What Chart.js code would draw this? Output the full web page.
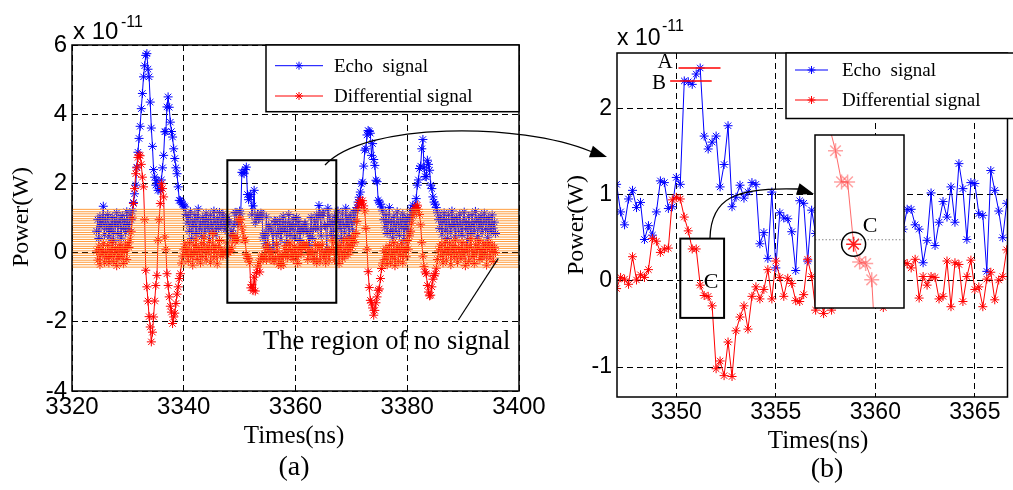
<!DOCTYPE html>
<html>
<head>
<meta charset="utf-8">
<title>Echo and differential signal</title>
<script src="https://cdn.jsdelivr.net/npm/chart.js@4.4.1/dist/chart.umd.min.js"></script>
<style>
  html, body { margin: 0; padding: 0; background: #fff; }
  #wrap { position: relative; width: 1013px; height: 490px; overflow: hidden; background: #fff; }
  #wrap canvas { position: absolute; left: 0; top: 0; }
</style>
</head>
<body>
<div id="wrap">
  <canvas id="panelA" width="1013" height="490"></canvas>
  <canvas id="panelB" width="1013" height="490"></canvas>
  <canvas id="inset" width="1013" height="490"></canvas>
</div>
<script>
// sampling grid of the record (ns)
const T0 = 3324.4;
const DT = 0.2;

// power in units of 1e-11 W
// 3324.4 .. 3346.8 ns
const echoPre = [
  0.62, 0.95, 0.41, 1.05, 0.74, 0.88, 1.34, 0.52, 0.97, 0.68,
  1.10, 0.45, 0.83, 0.60, 1.02, 0.36, 0.91, 0.77, 1.15, 0.55,
  0.86, 0.98, 0.42, 1.07, 0.70, 0.93, 0.58, 1.18, 0.81, 0.66,
  1.12,
  0.95, 1.20, 1.45, 1.70, 1.95, 2.47, 2.90, 3.30, 3.65, 4.16,
  4.60, 5.08, 5.40, 5.70, 5.75, 5.30, 5.08, 4.35, 3.60, 3.07,
  2.40, 2.18, 1.95, 2.09, 1.80, 1.85, 1.80, 2.10, 2.45, 2.81,
  3.49, 3.50, 4.21, 4.50, 4.20, 3.77, 3.50, 3.34, 3.00, 2.72,
  2.45, 2.28, 1.90, 1.51, 1.50, 1.46, 1.40, 1.35, 1.32, 1.10,
  0.85, 1.05, 0.62, 1.18, 0.40, 0.92, 0.75, 1.10, 0.55, 0.98,
  1.26, 0.68, 0.83, 0.47, 1.02, 0.90, 0.58, 1.14, 0.72, 0.96,
  0.38, 1.08, 0.80, 0.63, 1.20, 0.88, 0.52, 0.99, 0.70, 1.16,
  0.77, 0.93
];
const diffPre = [
  0.05, -0.22, 0.18, -0.35, 0.10, -0.08, 0.26, -0.28, 0.02, -0.15,
  0.21, -0.30, 0.08, -0.12, 0.30, -0.25, -0.02, 0.15, -0.38, 0.06,
  -0.18, 0.24, -0.10, 0.12, -0.32, 0.03, 0.19, -0.20, 0.28, 0.15,
  0.38,
  0.60, 1.00, 1.42, 1.85, 2.28, 2.45, 2.75, 2.82, 2.80, 2.55,
  2.18, 1.90, 0.95, -0.51, -0.99, -1.40, -1.85, -2.15, -2.58, -2.30,
  -1.86, -1.40, -0.95, -0.66, 0.36, 0.95, 1.42, 1.99, 1.85, 1.61,
  0.45, 0.10, -0.61, -0.95, -1.28, -1.55, -1.72, -2.05, -1.86, -1.75,
  -1.47, -1.20, -0.99, -0.75, -0.61, -0.30, -0.10, 0.10, 0.25, -0.05,
  0.12, -0.25, 0.30, -0.10, 0.05, -0.36, 0.22, -0.05, 0.38, -0.20,
  0.15, 0.02, -0.30, 0.26, -0.12, 0.45, 0.08, -0.22, 0.18, -0.02,
  0.32, -0.28, 0.10, 0.55, -0.15, 0.20, 0.00, -0.33, 0.14, 0.35,
  -0.08, 0.06
];

// 3347.0 .. 3366.6 ns (the part shown in panel b)
const echoZoom = [
  1.12, 0.80, 0.65, 0.95, 1.05, 0.85, 0.91, 0.48, 0.64, 0.53,
  0.80, 1.16, 1.14, 0.84, 0.86, 1.20, 1.12, 2.32, 2.31, 2.28,
  2.40, 2.47, 1.68, 1.53, 1.61, 1.68, 1.09, 1.35, 1.80, 0.86,
  0.97, 1.11, 0.96, 1.03, 1.14, 1.12, 0.43, 0.56, 0.26, 1.03,
  0.15, 0.79, 0.73, 0.72, 0.57, 0.12, 0.93, 0.90, 0.23, 0.82,
  0.55, 0.95, 0.38, 0.72, 1.05, 0.61, 0.88, 0.30, 0.76, 1.10,
  0.50, 0.84, 0.66, 0.98, 0.42, 0.79, 1.02, 0.58, 0.90, 0.35,
  0.74, 0.68,
  0.60, 0.83, 0.83, 0.65, 0.60, 0.21, 0.47, 1.02, 0.41, 0.68,
  0.92, 0.74, 1.09, 0.68, 1.36, 1.07, 0.48, 1.14, 1.13, 0.78,
  0.76, 0.11, 1.28, 1.05, 0.81, 0.50, 0.90
];
const diffZoom = [
  -0.09, 0.04, 0.02, -0.04, 0.28, 0.01, 0.07, 0.04, 0.13, 0.49,
  0.46, 0.33, 0.37, 0.38, 0.94, 0.97, 0.95, 0.74, 0.58, 0.37,
  0.37, -0.05, -0.17, -0.18, -0.29, -1.02, -0.93, -1.10, -0.71, -1.11,
  -0.58, -0.42, -0.29, -0.56, -0.18, -0.07, -0.21, -0.10, 0.13, -0.21,
  0.23, 0.04, -0.18, 0.03, -0.03, -0.23, -0.24, -0.16, 0.25, 0.05,
  -0.34, -0.12, -0.38, -0.05, -0.34, 0.12, -0.08, 0.20, -0.15, 0.05,
  0.28, -0.10, 0.10, -0.20, 0.18, 0.00, -0.12, -0.31, 0.08, 0.22,
  -0.05, 0.15,
  0.21, 0.20, 0.15, 0.25, -0.20, 0.05, -0.05, 0.05, 0.04, -0.21,
  -0.18, 0.23, -0.30, 0.21, 0.19, -0.24, 0.05, 0.24, -0.10, -0.07,
  -0.30, 0.02, 0.10, -0.22, 0.01, 0.05, 0.36
];

// 3366.8 .. 3395.8 ns
const echoPost = [
  0.62, 1.05, 0.48, 0.88, 1.20, 0.70, 0.95, 0.40, 1.12, 0.82,
  0.57, 1.28, 0.74, 0.99, 0.46, 1.08, 0.86, 0.66, 1.15, 0.92,
  1.22,
  1.30, 1.46, 1.60, 1.75, 1.99, 2.04, 2.50, 2.96, 3.00, 3.40,
  3.53, 3.50, 3.45, 2.81, 3.15, 2.69, 2.52, 2.09, 2.05, 1.51,
  1.46, 1.40, 1.32, 1.20,
  0.95, 0.72, 1.10, 0.55, 0.88, 1.30, 0.64, 0.92, 0.43, 1.05,
  0.78, 0.60, 1.18, 0.85, 0.50, 0.97, 0.73, 1.12, 0.36, 0.90,
  0.68, 1.02, 0.58, 0.94, 1.25, 1.10, 1.37,
  1.20, 1.35, 1.56, 1.95, 2.10, 2.43, 2.50, 3.00, 3.27, 2.45,
  2.20, 2.19, 2.67, 2.55, 2.38, 1.95, 1.85, 1.61, 1.46, 1.40,
  1.30, 1.15, 0.95,
  0.70, 1.05, 0.52, 0.88, 1.15, 0.63, 0.95, 0.41, 1.08, 0.80,
  0.58, 1.20, 0.74, 0.97, 0.45, 1.02, 0.85, 0.62, 1.12, 0.78,
  0.50, 0.93, 1.17, 0.68, 0.87, 0.38, 1.04, 0.76, 0.55, 1.10,
  0.83, 0.64, 1.19, 0.90, 0.47, 0.99, 0.72, 1.06, 0.58, 0.86,
  1.14, 0.67, 0.94, 0.43, 1.01, 0.79, 0.60, 1.09, 0.71, 0.88,
  0.55
];
const diffPost = [
  0.10, -0.22, 0.28, -0.05, 0.15, -0.32, 0.20, 0.02, -0.18, 0.33,
  -0.10, 0.12, 0.40, -0.06, 0.25, 0.05, 0.38, 0.18, 0.45, 0.30,
  0.55,
  0.90, 1.30, 1.45, 1.51, 1.40, 1.50, 1.35, 1.20, 0.70, 0.10,
  -0.55, -1.01, -1.38, -1.45, -1.60, -1.81, -1.67, -1.45, -1.28, -1.09,
  -1.05, -0.75, -0.46, -0.30,
  0.05, -0.20, 0.12, -0.35, -0.05, 0.20, -0.28, 0.08, -0.15, 0.30,
  -0.38, 0.02, 0.18, -0.25, 0.10, -0.08, 0.26, -0.30, 0.04, 0.15,
  -0.12, 0.35, 0.10, 0.48, 0.62, 0.85, 1.05,
  1.15, 1.28, 1.30, 1.37, 1.25, 1.10, 0.80, 0.30, -0.10, -0.40,
  -0.56, -0.61, -0.95, -1.14, -1.25, -1.23, -0.99, -0.77, -0.66, -0.61,
  -0.45, -0.20, 0.05,
  0.18, -0.10, 0.25, -0.30, 0.05, 0.32, -0.22, 0.12, -0.05, 0.28,
  -0.35, 0.08, 0.20, -0.15, 0.36, -0.02, -0.28, 0.15, 0.02, -0.18,
  0.30, -0.08, 0.10, -0.38, 0.22, 0.04, -0.25, 0.16, 0.40, -0.12,
  0.06, -0.32, 0.24, -0.04, 0.13, 0.34, -0.20, 0.09, -0.14, 0.27,
  -0.06, 0.19, -0.36, 0.11, 0.30, -0.16, 0.03, 0.22, -0.26, 0.14,
  0.00
];

// orange "no signal" levels in panel a
const noSignalLevels = [
  1.25, 1.18, 1.12, 1.05, 0.98, 0.92, 0.85, 0.78, 0.72, 0.65, 0.58, 0.52, 0.45,
  0.38, 0.32, 0.25, 0.18, 0.12, 0.05, -0.02, -0.08, -0.15, -0.22, -0.28, -0.35, -0.42
];

// axes
const xRangeA = [3320, 3400], yRangeA = [-4, 6];
const xTicksA = [3320, 3340, 3360, 3380, 3400];
const yTicksA = [-4, -2, 0, 2, 4, 6];
const xRangeB = [3347.02, 3366.64], yRangeB = [-1.348, 2.644];
const xTicksB = [3350, 3355, 3360, 3365];
const yTicksB = [-1, 0, 1, 2];
const xRangeInset = [3349.92, 3352.87], yRangeInset = [-0.48, 0.686];

// marked spots
const zoomWinA = { x0: 3347.8, x1: 3367.3, y0: -1.45, y1: 2.67 };
const boxC = { x0: 3350.2, x1: 3352.4, y0: -0.43, y1: 0.49 };
const levelA = { y: 2.47, x0: 3350.11, x1: 3352.22 };
const levelB = { y: 2.32, x0: 3349.69, x1: 3351.78 };
const pointC = 3351.2;
const insetRef = -0.02;

const SANS = '"Liberation Sans", Arial, sans-serif';
const SERIF = '"Liberation Serif", "Times New Roman", serif';
const BLUE = '#0000ff';
const RED = '#ff0000';

const echoAll = [...echoPre, ...echoZoom, ...echoPost];
const diffAll = [...diffPre, ...diffZoom, ...diffPost];
const tAll = echoAll.map((_, i) => +(T0 + i * DT).toFixed(1));
const tZoom = tAll.slice(echoPre.length, echoPre.length + echoZoom.length);

function pts(ts, vs) { return vs.map((v, i) => ({ x: ts[i], y: v })); }

function signal(ts, vs, color, order) {
  return {
    data: pts(ts, vs), borderColor: color, borderWidth: 1,
    pointStyle: 'star', pointRadius: 4.5, pointBorderWidth: 1,
    pointBorderColor: color, pointBackgroundColor: color,
    tension: 0, fill: false, order: order
  };
}

function axis(range, ticks, size, px, pad, isX) {
  return {
    type: 'linear', min: range[0], max: range[1],
    afterBuildTicks: s => { s.ticks = ticks.map(v => ({ value: v })); },
    afterFit: s => { if (isX) s.height = size; else s.width = size; },
    grid: { color: '#000', lineWidth: 1, drawTicks: false },
    border: { display: false, dash: [6, 4] },
    ticks: { color: '#000', font: { family: SANS, size: px }, padding: pad,
             autoSkip: false, maxRotation: 0, callback: v => String(v) }
  };
}

function txt(ctx, s, x, y, font, align, base, rot) {
  ctx.save();
  ctx.font = font; ctx.fillStyle = '#000';
  ctx.textAlign = align || 'center'; ctx.textBaseline = base || 'middle';
  ctx.translate(x, y);
  if (rot) ctx.rotate(rot);
  ctx.fillText(s, 0, 0);
  ctx.restore();
}

function frame(ctx, a) {
  ctx.save();
  ctx.strokeStyle = '#000'; ctx.lineWidth = 1.5; ctx.setLineDash([]);
  ctx.strokeRect(a.left, a.top, a.right - a.left, a.bottom - a.top);
  ctx.restore();
}

function legend(ctx, box, rows) {
  ctx.save();
  ctx.fillStyle = '#fff';
  ctx.fillRect(box.x, box.y, box.w, box.h);
  ctx.strokeStyle = '#000'; ctx.lineWidth = 1.5;
  ctx.strokeRect(box.x, box.y, box.w, box.h);
  rows.forEach(r => {
    ctx.strokeStyle = r.color; ctx.lineWidth = 1;
    ctx.beginPath(); ctx.moveTo(box.l0, r.y); ctx.lineTo(box.l1, r.y); ctx.stroke();
    Chart.helpers.drawPoint(ctx, { pointStyle: 'star', radius: 4, borderWidth: 1, rotation: 0 }, (box.l0 + box.l1) / 2, r.y);
    txt(ctx, r.label, box.tx, r.y + 1, '19px ' + SERIF, 'left', 'middle');
  });
  ctx.restore();
}

function curvedArrow(ctx, p0, c1, c2, p3, tip) {
  ctx.save();
  ctx.strokeStyle = '#000'; ctx.lineWidth = 1.3;
  ctx.beginPath(); ctx.moveTo(p0[0], p0[1]);
  ctx.bezierCurveTo(c1[0], c1[1], c2[0], c2[1], p3[0], p3[1]);
  ctx.stroke();
  const a = Math.atan2(tip[1] - p3[1], tip[0] - p3[0]);
  const len = 17, half = 6;
  ctx.fillStyle = '#000';
  ctx.beginPath();
  ctx.moveTo(tip[0], tip[1]);
  ctx.lineTo(tip[0] - len * Math.cos(a) + half * Math.sin(a), tip[1] - len * Math.sin(a) - half * Math.cos(a));
  ctx.lineTo(tip[0] - len * Math.cos(a) - half * Math.sin(a), tip[1] - len * Math.sin(a) + half * Math.cos(a));
  ctx.closePath(); ctx.fill();
  ctx.restore();
}

function rectData(ctx, xs, ys, r, w) {
  const x0 = xs.getPixelForValue(r.x0), x1 = xs.getPixelForValue(r.x1);
  const y0 = ys.getPixelForValue(r.y1), y1 = ys.getPixelForValue(r.y0);
  ctx.save();
  ctx.strokeStyle = '#000'; ctx.lineWidth = w;
  ctx.strokeRect(x0, y0, x1 - x0, y1 - y0);
  ctx.restore();
}

const extrasA = {
  id: 'extrasA',
  afterDraw(chart) {
    const ctx = chart.ctx, a = chart.chartArea, xs = chart.scales.x, ys = chart.scales.y;
    frame(ctx, a);
    legend(ctx, { x: 266, y: a.top, w: a.right - 266, h: 66.7, l0: 275, l1: 323, tx: 334 }, [
      { label: 'Echo  signal', color: BLUE, y: 65.7 },
      { label: 'Differential signal', color: RED, y: 96 }
    ]);
    rectData(ctx, xs, ys, zoomWinA, 2);
    curvedArrow(ctx, [325, 165], [365, 122], [520, 122], [591, 151.5], [607, 157]);
    ctx.save();
    ctx.strokeStyle = '#000'; ctx.lineWidth = 1.2;
    ctx.beginPath(); ctx.moveTo(498.3, 258.3); ctx.lineTo(458.3, 320); ctx.stroke();
    ctx.restore();
    txt(ctx, 'The region of no signal', 263, 349, '26.5px ' + SERIF, 'left', 'alphabetic');
    txt(ctx, 'x 10', 73, 38.5, '24px ' + SANS, 'left', 'alphabetic');
    txt(ctx, '-11', 121, 26.5, '16px ' + SANS, 'left', 'alphabetic');
    txt(ctx, 'Power(W)', 21.5, 217, '24px ' + SERIF, 'center', 'middle', -Math.PI / 2);
    txt(ctx, 'Times(ns)', 294, 436, '25px ' + SERIF);
    txt(ctx, '(a)', 294, 468, '28px ' + SERIF);
  }
};

const extrasB = {
  id: 'extrasB',
  afterDraw(chart) {
    const ctx = chart.ctx, a = chart.chartArea, xs = chart.scales.x, ys = chart.scales.y;
    frame(ctx, a);
    legend(ctx, { x: 786, y: a.top, w: 240, h: 65.5, l0: 795, l1: 828, tx: 842 }, [
      { label: 'Echo  signal', color: BLUE, y: 70 },
      { label: 'Differential signal', color: RED, y: 100 }
    ]);
    ctx.save();
    ctx.strokeStyle = RED; ctx.lineWidth = 1.5;
    [levelA, levelB].forEach(l => {
      const y = ys.getPixelForValue(l.y);
      ctx.beginPath(); ctx.moveTo(xs.getPixelForValue(l.x0), y); ctx.lineTo(xs.getPixelForValue(l.x1), y); ctx.stroke();
    });
    ctx.restore();
    txt(ctx, 'A', 665, 62, '21px ' + SERIF);
    txt(ctx, 'B', 659, 83, '21px ' + SERIF);
    rectData(ctx, xs, ys, boxC, 2);
    txt(ctx, 'C', 711, 282, '22px ' + SERIF);
    curvedArrow(ctx, [710, 238], [711, 198], [735, 187], [798, 189], [814, 194]);
    txt(ctx, 'x 10', 617, 45, '23px ' + SANS, 'left', 'alphabetic');
    txt(ctx, '-11', 662, 30.5, '16px ' + SANS, 'left', 'alphabetic');
    txt(ctx, 'Power(W)', 577, 225, '24px ' + SERIF, 'center', 'middle', -Math.PI / 2);
    txt(ctx, 'Times(ns)', 818, 441, '25px ' + SERIF);
    txt(ctx, '(b)', 827, 470, '28px ' + SERIF);
  }
};

const extrasInset = {
  id: 'extrasInset',
  beforeDatasetsDraw(chart) {
    const ctx = chart.ctx, a = chart.chartArea;
    ctx.save(); ctx.fillStyle = '#fff';
    ctx.fillRect(a.left, a.top, a.right - a.left, a.bottom - a.top);
    ctx.restore();
  },
  afterDatasetsDraw(chart) {
    const ctx = chart.ctx, a = chart.chartArea, xs = chart.scales.x, ys = chart.scales.y;
    const yRef = ys.getPixelForValue(insetRef);
    ctx.save();
    ctx.strokeStyle = '#888'; ctx.lineWidth = 1; ctx.setLineDash([1.5, 2]);
    ctx.beginPath(); ctx.moveTo(a.left, yRef); ctx.lineTo(a.right + 2, yRef); ctx.stroke();
    ctx.setLineDash([]);
    const ci = tZoom.indexOf(pointC);
    ctx.strokeStyle = '#000'; ctx.lineWidth = 1.5;
    ctx.beginPath();
    ctx.arc(xs.getPixelForValue(pointC), ys.getPixelForValue(diffZoom[ci]), 12, 0, Math.PI * 2);
    ctx.stroke();
    ctx.restore();
    txt(ctx, 'C', 870, 226, '22px ' + SERIF);
    frame(ctx, a);
  }
};

const common = {
  responsive: false, animation: false, events: [],
  plugins: { legend: { display: false }, tooltip: { enabled: false } }
};

new Chart(document.getElementById('panelA'), {
  type: 'line',
  data: {
    datasets: [
      ...noSignalLevels.map(lv => ({
        data: [{ x: xRangeA[0], y: lv }, { x: xRangeA[1], y: lv }],
        borderColor: 'rgba(255,145,40,0.9)', borderWidth: 1, pointRadius: 0, order: 0
      })),
      signal(tAll, diffAll, RED, 1),
      signal(tAll, echoAll, BLUE, 2)
    ]
  },
  options: {
    ...common,
    layout: { padding: { left: 12, right: 1013 - 519, top: 45, bottom: 49 } },
    scales: {
      x: axis(xRangeA, xTicksA, 50, 24, 2, true),
      y: axis(yRangeA, yTicksA, 60, 24, 5, false)
    }
  },
  plugins: [extrasA]
});

new Chart(document.getElementById('panelB'), {
  type: 'line',
  data: {
    datasets: [
      signal(tZoom, diffZoom, RED, 1),
      signal(tZoom, echoZoom, BLUE, 2)
    ]
  },
  options: {
    ...common,
    layout: { padding: { left: 577, right: 1, top: 53, bottom: 43 } },
    scales: {
      x: axis(xRangeB, xTicksB, 50, 23, 2, true),
      y: axis(yRangeB, yTicksB, 40, 23, 5, false)
    }
  },
  plugins: [extrasB]
});

const cIdx = tZoom.indexOf(pointC);
new Chart(document.getElementById('inset'), {
  type: 'line',
  data: {
    datasets: [{
      data: pts(tZoom, diffZoom),
      borderColor: 'rgba(255,80,80,0.85)', borderWidth: 1,
      pointStyle: 'star', pointRadius: 7.5, pointBorderWidth: 1.5,
      pointBorderColor: c => c.dataIndex === cIdx ? 'rgba(255,20,20,0.95)' : 'rgba(255,70,70,0.5)',
      tension: 0, fill: false, clip: 0
    }]
  },
  options: {
    ...common,
    layout: { padding: { left: 815, right: 1013 - 904, top: 135, bottom: 490 - 308 } },
    scales: {
      x: { type: 'linear', display: false, min: xRangeInset[0], max: xRangeInset[1] },
      y: { type: 'linear', display: false, min: yRangeInset[0], max: yRangeInset[1] }
    }
  },
  plugins: [extrasInset]
});
</script>
</body>
</html>
